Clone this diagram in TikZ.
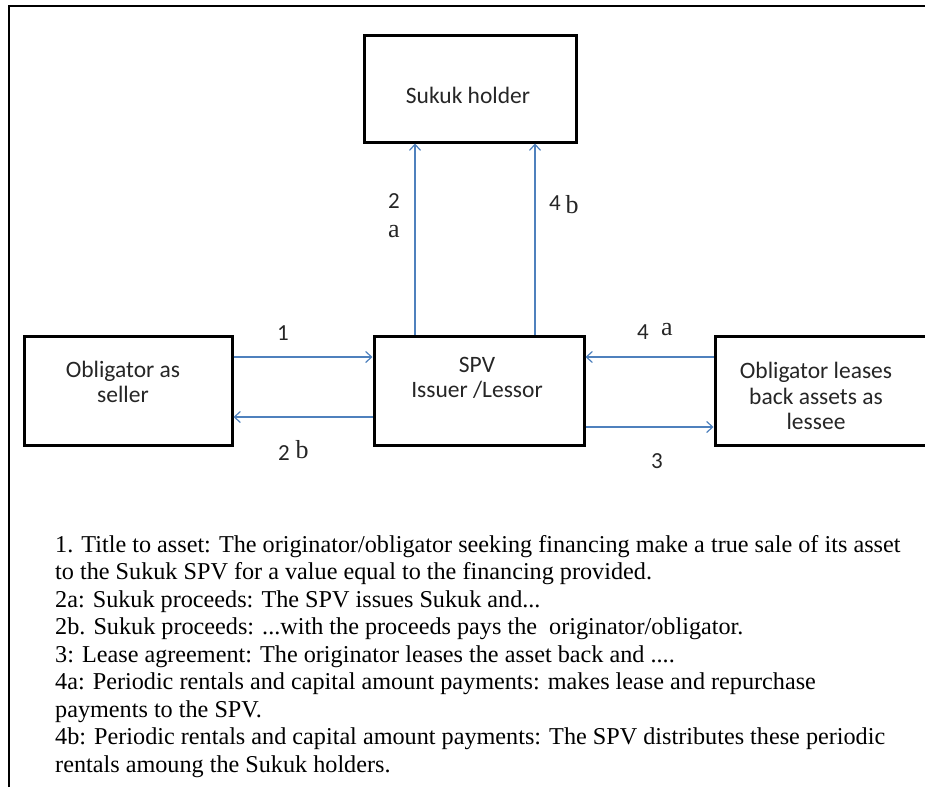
\documentclass[tikz,border=0pt]{standalone}
\usepackage{fontspec}
\setmainfont{Liberation Serif}
\newfontfamily\boxfont{Carlito}
\usetikzlibrary{arrows.meta}
\definecolor{flow}{HTML}{4F81BD}
\begin{document}
\begin{tikzpicture}[x=1pt,y=-1pt,
  ent/.style={draw=black,line width=3pt,inner sep=0pt,fill=white},
  btext/.style={font=\boxfont\fontsize{23.5}{25.5}\selectfont,align=center,inner sep=0pt,text=black!85},
  conn/.style={draw=flow,line width=1.2pt,-{Straight Barb[length=6pt,width=11pt,line width=1.2pt]}},
  num/.style={font=\boxfont\fontsize{23}{25}\selectfont,inner sep=0pt,text=black!85},
  let/.style={font=\fontsize{26}{28}\selectfont,inner sep=0pt,text=black!85},
  note/.style={font=\fontsize{24.2}{27.5}\selectfont,anchor=base west,inner sep=0pt,text=black}]
\useasboundingbox (0,0) rectangle (925,787);
\draw[line width=2pt] (9,787) -- (9,6) -- (926,6);

% boxes
\node[ent,minimum width=212pt,minimum height=107pt] (hold) at (470,88.5) {};
\node[ent,minimum width=208pt,minimum height=109pt] (sell) at (128,390.5) {};
\node[ent,minimum width=210pt,minimum height=109pt] (spv) at (479,390.5) {};
\node[ent,minimum width=212pt,minimum height=109pt] (less) at (821,390.5) {};

\node[btext] (holdt) at (468,95) {Sukuk holder};
\node[btext] (sellt) at (123,382) {Obligator as\\seller};
\node[btext] (spvt) at (477,378) {SPV\\Issuer /Lessor};
\node[btext] (lesst) at (816,396) {Obligator leases\\back assets as\\lessee};

% connectors
\draw[conn] (sell.east |- 0,357) -- (spv.west |- 0,357);
\draw[conn] (spv.west |- 0,417) -- (sell.east |- 0,417);
\draw[conn] (less.west |- 0,357) -- (spv.east |- 0,357);
\draw[conn] (spv.east |- 0,427) -- (less.west |- 0,427);
\draw[conn] (spv.north -| 415,0) -- (hold.south -| 415,0);
\draw[conn] (spv.north -| 535,0) -- (hold.south -| 535,0);

% labels
\node[num] (l1) at (283,333) {1};
\node[num] (l2b) at (284,453) {2};
\node[let] (l2bb) at (302,450) {b};
\node[num] (l4a) at (643,332) {4};
\node[let] (l4aa) at (667,330) {a};
\node[num] (l3) at (657,461) {3};
\node[num] (l2a) at (394,201) {2};
\node[let] (l2aa) at (394,232) {a};
\node[num] (l4b) at (555,203) {4};
\node[let] (l4bb) at (572,205) {b};

% notes
\node[note] (n1) at (55,552) {1. Title to asset: The originator/obligator seeking financing make a true sale of its asset};
\node[note] (n2) at (55,579.5) {to the Sukuk SPV for a value equal to the financing provided.};
\node[note] (n3) at (55,607) {2a: Sukuk proceeds: The SPV issues Sukuk and...};
\node[note] (n4) at (55,634.5) {2b. Sukuk proceeds: ...with the proceeds pays the \ originator/obligator.};
\node[note] (n5) at (55,662) {3: Lease agreement: The originator leases the asset back and ....};
\node[note] (n6) at (55,689.5) {4a: Periodic rentals and capital amount payments: makes lease and repurchase};
\node[note] (n7) at (55,717) {payments to the SPV.};
\node[note] (n8) at (55,744.5) {4b: Periodic rentals and capital amount payments: The SPV distributes these periodic};
\node[note] (n9) at (55,772) {rentals amoung the Sukuk holders.};
\end{tikzpicture}
\end{document}
